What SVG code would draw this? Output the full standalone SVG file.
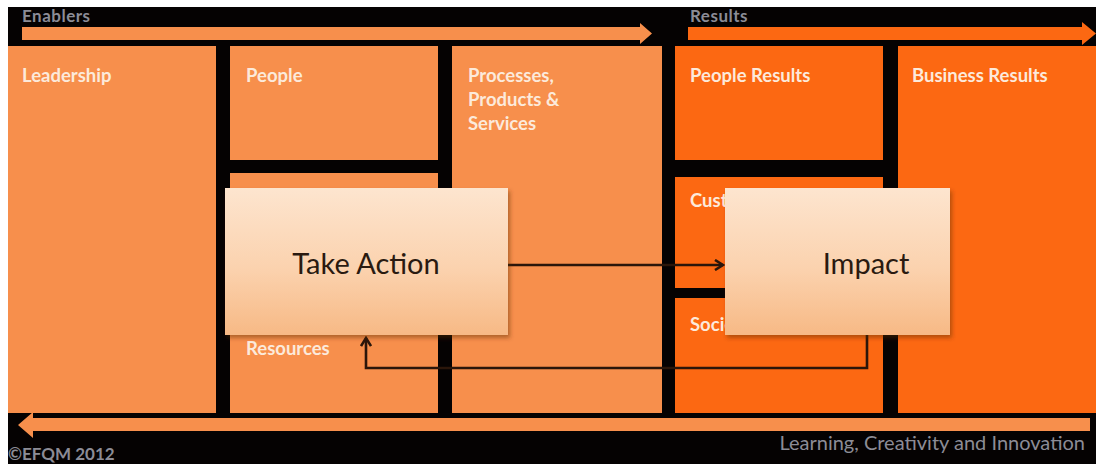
<svg xmlns="http://www.w3.org/2000/svg" width="1096" height="464" viewBox="0 0 1096 464">
  <defs>
    <linearGradient id="boxFill" x1="0" y1="0" x2="0" y2="1">
      <stop offset="0" stop-color="#FDE5CF"/>
      <stop offset="0.55" stop-color="#FBD2AE"/>
      <stop offset="1" stop-color="#F7B985"/>
    </linearGradient>
    <filter id="shadow" x="-5%" y="-5%" width="115%" height="120%">
      <feDropShadow dx="2" dy="3" stdDeviation="2" flood-color="#5a2a00" flood-opacity="0.45"/>
    </filter>
    <marker id="head" viewBox="0 0 12 12" refX="10" refY="6" markerWidth="12" markerHeight="12" markerUnits="userSpaceOnUse" orient="auto">
      <path d="M2,1 L10,6 L2,11" fill="none" stroke="#2B160A" stroke-width="2.6" stroke-linejoin="miter"/>
    </marker>
  </defs>
  <style>
    .enabler { fill: #F78F4C; }
    .result { fill: #FC6812; }
    .label { font-family: "Lato", "Open Sans", "Liberation Sans", sans-serif; font-weight: 700; font-size: 18.5px; fill: #FCEADB; }
    .big { font-family: "Lato", "Open Sans", "Liberation Sans", sans-serif; font-size: 29px; fill: #2A1A10; text-anchor: middle; }
    .grey { font-family: "Lato", "Liberation Sans", sans-serif; fill: #8C8C96; }
    .link { fill: none; stroke: #2B160A; stroke-width: 2.6; }
  </style>

  <!-- page and black backdrop -->
  <rect x="0" y="0" width="1096" height="464" fill="#FFFFFF"/>
  <rect x="8" y="7" width="1088" height="457" fill="#050202"/>

  <!-- header arrows -->
  <g id="enablers-arrow">
    <text class="grey" x="22" y="22" font-size="17" font-weight="700" letter-spacing="0.5">Enablers</text>
    <path d="M22,27 H640 V23 L652,33.5 L640,44 V40 H22 Z" fill="#F78F4C"/>
  </g>
  <g id="results-arrow">
    <text class="grey" x="690" y="22" font-size="17" font-weight="700" letter-spacing="0.5">Results</text>
    <path d="M688,27 H1082 V22 L1096,33.5 L1082,45 V40 H688 Z" fill="#FC6812"/>
  </g>

  <!-- enabler criteria -->
  <g id="leadership">
    <rect class="enabler" x="8" y="46" width="208" height="367"/>
    <text class="label" x="22" y="82">Leadership</text>
  </g>
  <g id="people">
    <rect class="enabler" x="230" y="46" width="208" height="114"/>
    <text class="label" x="246" y="82">People</text>
  </g>
  <g id="resources">
    <rect class="enabler" x="230" y="173" width="208" height="240"/>
    <text class="label" x="246" y="355">Resources</text>
  </g>
  <g id="processes">
    <rect class="enabler" x="452" y="46" width="210" height="367"/>
    <text class="label" x="468" y="82">Processes,</text>
    <text class="label" x="468" y="106">Products &amp;</text>
    <text class="label" x="468" y="130">Services</text>
  </g>

  <!-- result criteria -->
  <g id="people-results">
    <rect class="result" x="675" y="46" width="208" height="114"/>
    <text class="label" x="690" y="82">People Results</text>
  </g>
  <g id="customer-results">
    <rect class="result" x="675" y="177" width="208" height="111"/>
    <text class="label" x="690" y="207">Customer Results</text>
  </g>
  <g id="society-results">
    <rect class="result" x="675" y="298" width="208" height="115"/>
    <text class="label" x="690" y="331">Society Results</text>
  </g>
  <g id="business-results">
    <rect class="result" x="898" y="46" width="198" height="367"/>
    <text class="label" x="912" y="82">Business Results</text>
  </g>

  <!-- learning feedback arrow -->
  <g id="learning-arrow">
    <path d="M1090,418 H33 V412 L18,425 L33,438 V431 H1090 Z" fill="#F78F4C"/>
    <text class="grey" x="1085" y="450" font-size="20" text-anchor="end">Learning, Creativity and Innovation</text>
  </g>
  <g id="copyright">
    <text class="grey" x="8" y="460" font-size="17" font-weight="700">©EFQM 2012</text>
  </g>

  <!-- connectors -->
  <g id="connectors">
    <path class="link" d="M508,265 H723" marker-end="url(#head)"/>
    <path class="link" d="M867,335 V368 H366 V338" marker-end="url(#head)"/>
  </g>

  <!-- overlay nodes -->
  <g id="take-action">
    <rect x="225" y="188" width="283" height="147" fill="url(#boxFill)" filter="url(#shadow)"/>
    <text class="big" x="366" y="274">Take Action</text>
  </g>
  <g id="impact">
    <rect x="725" y="188" width="225" height="147" fill="url(#boxFill)" filter="url(#shadow)"/>
    <text class="big" x="866" y="274">Impact</text>
  </g>
</svg>
